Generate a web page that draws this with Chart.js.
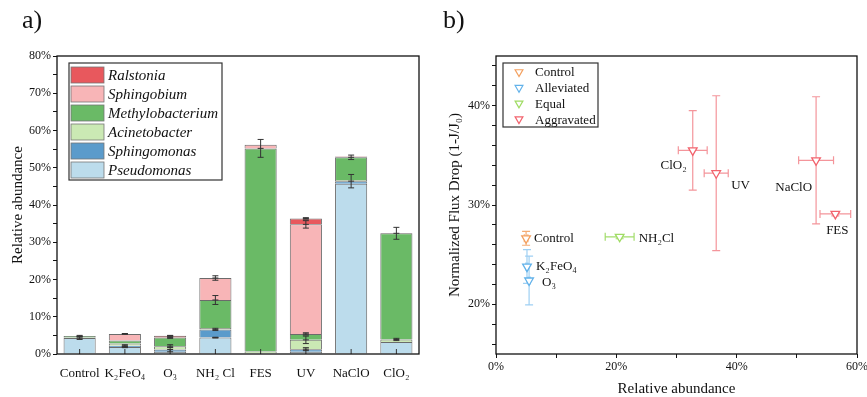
<!DOCTYPE html>
<html lang="en">
<head>
<meta charset="UTF-8">
<title>Relative abundance and flux drop</title>
<script src="https://cdn.jsdelivr.net/npm/chart.js"></script>
<style>
  body { margin: 0; background: #fff; }
  #wrap { position: relative; width: 867px; height: 397px; }
  .panel { position: absolute; top: 0; height: 397px; }
  #pa { left: 0; width: 430px; }
  #pb { left: 430px; width: 437px; }
  .tag { position: absolute; top: 5px; font: 26px "Liberation Serif", serif; color: #111; }
</style>
</head>
<body>
<div id="wrap">
  <div class="panel" id="pa"><canvas id="chartA"></canvas></div>
  <div class="panel" id="pb"><canvas id="chartB"></canvas></div>
  <div class="tag" style="left:22px">a)</div>
  <div class="tag" style="left:443px">b)</div>
</div>

<script>
// ---- panel a: stacked relative abundance (%) ----
const treatments = ['Control', 'K₂FeO₄', 'O₃', 'NH₂ Cl', 'FES', 'UV', 'NaClO', 'ClO₂'];
const pseudomonas      = [4.3, 1.9, 0.6, 4.4, 0.2, 0.6, 45.7, 3.2];
const sphingomonas     = [0.0, 0.3, 0.6, 2.2, 0.0, 0.7, 0.7, 0.0];
const acinetobacter    = [0.1, 0.6, 0.9, 0.4, 0.5, 2.5, 0.3, 0.7];
const methylobacterium = [0.4, 0.8, 2.3, 7.5, 54.5, 1.6, 6.1, 28.5];
const sphingobium      = [0.0, 1.8, 0.0, 5.9, 1.0, 29.4, 0.1, 0.0];
const ralstonia        = [0.0, 0.0, 0.5, 0.0, 0.0, 1.6, 0.1, 0.1];

// error at the top of each layer (0 = none)
const pseudomonasErr      = [0.4, 0.2, 0.0, 0.1, 0.0, 0.0, 0.0, 0.0];
const sphingomonasErr     = [0.0, 0.3, 0.6, 0.3, 0.0, 0.4, 1.8, 0.0];
const acinetobacterErr    = [0.0, 0.0, 0.4, 0.0, 0.0, 1.0, 0.0, 0.3];
const methylobacteriumErr = [0.2, 0.0, 0.2, 1.2, 2.4, 0.3, 0.6, 1.6];
const sphingobiumErr      = [0.0, 0.1, 0.0, 0.6, 0.0, 1.0, 0.0, 0.0];
const ralstoniaErr        = [0.0, 0.0, 0.1, 0.0, 0.0, 0.2, 0.0, 0.0];

const yTicksA = [0, 80, 5];

// ---- panel b: flux drop vs abundance ----
const fluxGroups = ['Control', 'Alleviated', 'Equal', 'Aggravated'];
const pointNames = ['Control', 'K₂FeO₄', 'O₃', 'NH₂Cl', 'ClO₂', 'UV', 'NaClO', 'FES'];
const pointGroup = [0, 1, 1, 2, 3, 3, 3, 3];
const abundX     = [5.0, 5.15, 5.5, 20.55, 32.7, 36.6, 53.2, 56.4];
const abundXErr  = [0.3, 0.2, 0.2, 2.4, 2.4, 2.0, 2.9, 2.55];
const fluxY      = [26.65, 23.8, 22.4, 26.8, 35.5, 33.2, 34.5, 29.1];
const fluxYErr   = [0.7, 1.7, 2.45, 0.2, 4.0, 7.8, 6.4, 0.2];

// styling
const serif = '"Liberation Serif", "Times New Roman", serif';
const groupColors = ['#f3a05f', '#62b2ea', '#9fdc63', '#f2636d'];
const groupErrColors = ['#f4ac75', '#9fd0f3', '#a3dd6c', '#f4959b'];
// label offsets (px) from the marker and text alignment
const labelOffsets = [[8, 0, 'left'], [9, 0, 'left'], [13, 2, 'left'], [19, 2, 'left'],
                      [-6, 15, 'right'], [15, 12, 'left'], [-4, 27, 'right'], [2, 17, 'center']];

const boxPlugin = {
  id: 'box',
  afterDraw(chart) {
    const { ctx, chartArea: a } = chart;
    ctx.save();
    ctx.strokeStyle = '#111';
    ctx.lineWidth = 1.3;
    ctx.strokeRect(a.left, a.top, a.right - a.left, a.bottom - a.top);
    ctx.restore();
  }
};

const stackErrors = {
  id: 'stackErrors',
  afterDatasetsDraw(chart) {
    const { ctx, scales: { x, y }, chartArea } = chart;
    ctx.save();
    ctx.strokeStyle = '#333';
    ctx.lineWidth = 1;
    treatments.forEach((t, j) => {
      const px = x.getPixelForValue(j);
      // inward category tick
      ctx.beginPath();
      ctx.moveTo(px, chartArea.bottom);
      ctx.lineTo(px, chartArea.bottom - 5);
      ctx.stroke();
      let cum = 0;
      chart.data.datasets.forEach(ds => {
        cum += ds.data[j];
        const e = ds.err[j];
        if (!e) return;
        const y1 = y.getPixelForValue(cum + e), y2 = y.getPixelForValue(cum - e);
        ctx.beginPath();
        ctx.moveTo(px, y1); ctx.lineTo(px, y2);
        ctx.moveTo(px - 3, y1); ctx.lineTo(px + 3, y1);
        ctx.moveTo(px - 3, y2); ctx.lineTo(px + 3, y2);
        ctx.moveTo(px - 3, y.getPixelForValue(cum)); ctx.lineTo(px + 3, y.getPixelForValue(cum));
        ctx.stroke();
      });
    });
    ctx.restore();
  }
};

const legendA = {
  id: 'legendA',
  afterDraw(chart) {
    const ctx = chart.ctx;
    const items = chart.data.datasets.slice().reverse();
    const left = 69, top = 63, w = 153, h = 117, pitch = 19;
    ctx.save();
    ctx.fillStyle = '#fff';
    ctx.fillRect(left, top, w, h);
    ctx.strokeStyle = '#333';
    ctx.lineWidth = 1.2;
    ctx.strokeRect(left, top, w, h);
    ctx.font = 'italic 15px ' + serif;
    ctx.textBaseline = 'middle';
    items.forEach((ds, i) => {
      const cy = top + 12 + i * pitch;
      ctx.fillStyle = ds.backgroundColor;
      ctx.fillRect(left + 2, cy - 8, 33, 16);
      ctx.strokeStyle = '#777';
      ctx.lineWidth = 0.8;
      ctx.strokeRect(left + 2, cy - 8, 33, 16);
      ctx.fillStyle = '#111';
      ctx.fillText(ds.label, left + 39, cy + 1);
    });
    ctx.restore();
  }
};

function layer(label, data, err, color) {
  return { label, data, err, backgroundColor: color, borderColor: '#6b6b6b', borderWidth: 1,
           barPercentage: 0.71, categoryPercentage: 1 };
}

new Chart(document.getElementById('chartA'), {
  type: 'bar',
  data: {
    labels: treatments,
    datasets: [
      layer('Pseudomonas', pseudomonas, pseudomonasErr, '#bcdcec'),
      layer('Sphingomonas', sphingomonas, sphingomonasErr, '#5b9bcb'),
      layer('Acinetobacter', acinetobacter, acinetobacterErr, '#cbe9b4'),
      layer('Methylobacterium', methylobacterium, methylobacteriumErr, '#6aba66'),
      layer('Sphingobium', sphingobium, sphingobiumErr, '#f8b5b7'),
      layer('Ralstonia', ralstonia, ralstoniaErr, '#e8585d')
    ]
  },
  options: {
    responsive: true,
    maintainAspectRatio: false,
    animation: false,
    layout: { padding: { top: 56, right: 11, left: 0, bottom: 0 } },
    plugins: { legend: { display: false }, tooltip: { enabled: false } },
    scales: {
      x: {
        stacked: true,
        grid: { display: false },
        border: { display: false },
        ticks: { color: '#111', font: { family: serif, size: 13 }, padding: 4, maxRotation: 0, autoSkip: false },
        afterFit(s) { s.height = 43; s.paddingLeft = 0; s.paddingRight = 0; }
      },
      y: {
        stacked: true,
        min: yTicksA[0], max: yTicksA[1],
        grid: { drawOnChartArea: false, drawTicks: true, tickLength: 4, color: '#111' },
        border: { display: false },
        ticks: {
          stepSize: yTicksA[2], color: '#111', padding: 2,
          font: { family: serif, size: 12 },
          callback: v => v % 10 === 0 ? v + '%' : ''
        },
        title: { display: true, text: 'Relative abundance', color: '#111',
                 font: { family: serif, size: 15 }, padding: { top: 9, bottom: 0 } },
        afterFit(s) { s.width = 57; s.paddingTop = 0; s.paddingBottom = 0; }
      }
    }
  },
  plugins: [stackErrors, boxPlugin, legendA]
});

// ---- chart b ----
const xyErrors = {
  id: 'xyErrors',
  beforeDatasetsDraw(chart) {
    const { ctx, scales: { x, y } } = chart;
    ctx.save();
    ctx.lineWidth = 1.2;
    pointNames.forEach((n, i) => {
      const px = x.getPixelForValue(abundX[i]), py = y.getPixelForValue(fluxY[i]);
      ctx.strokeStyle = groupErrColors[pointGroup[i]];
      ctx.beginPath();
      const y1 = y.getPixelForValue(fluxY[i] + fluxYErr[i]), y2 = y.getPixelForValue(fluxY[i] - fluxYErr[i]);
      ctx.moveTo(px, y1); ctx.lineTo(px, y2);
      ctx.moveTo(px - 4, y1); ctx.lineTo(px + 4, y1);
      ctx.moveTo(px - 4, y2); ctx.lineTo(px + 4, y2);
      const x1 = x.getPixelForValue(abundX[i] - abundXErr[i]), x2 = x.getPixelForValue(abundX[i] + abundXErr[i]);
      ctx.moveTo(x1, py); ctx.lineTo(x2, py);
      ctx.moveTo(x1, py - 4); ctx.lineTo(x1, py + 4);
      ctx.moveTo(x2, py - 4); ctx.lineTo(x2, py + 4);
      ctx.stroke();
    });
    ctx.restore();
  },
  afterDatasetsDraw(chart) {
    const { ctx, scales: { x, y } } = chart;
    ctx.save();
    ctx.fillStyle = '#111';
    ctx.font = '13px ' + serif;
    ctx.textBaseline = 'middle';
    pointNames.forEach((n, i) => {
      const px = x.getPixelForValue(abundX[i]), py = y.getPixelForValue(fluxY[i]);
      const [dx, dy, align] = labelOffsets[i];
      ctx.textAlign = align;
      ctx.fillText(n, px + dx, py + dy);
    });
    ctx.restore();
  }
};

const legendB = {
  id: 'legendB',
  afterDraw(chart) {
    const ctx = chart.ctx;
    const left = 73, top = 63, w = 95, h = 64, pitch = 15.7;
    ctx.save();
    ctx.fillStyle = '#fff';
    ctx.fillRect(left, top, w, h);
    ctx.strokeStyle = '#333';
    ctx.lineWidth = 1.2;
    ctx.strokeRect(left, top, w, h);
    ctx.font = '13px ' + serif;
    ctx.textBaseline = 'middle';
    fluxGroups.forEach((g, i) => {
      const cy = top + 9 + i * pitch;
      ctx.strokeStyle = groupColors[i];
      ctx.fillStyle = '#fff';
      Chart.helpers.drawPoint(ctx, { pointStyle: 'triangle', rotation: 180, radius: 4.5, borderWidth: 1.2 }, left + 16, cy);
      ctx.fillStyle = '#111';
      ctx.fillText(g, left + 32, cy + 1);
    });
    ctx.restore();
  }
};

const scatterSets = fluxGroups.map((g, gi) => ({
  label: g,
  data: pointNames.map((n, i) => ({ x: abundX[i], y: fluxY[i], g: pointGroup[i] }))
                  .filter(p => p.g === gi),
  pointStyle: 'triangle',
  rotation: 180,
  pointRadius: 5,
  borderWidth: 1.3,
  borderColor: groupColors[gi],
  backgroundColor: '#fff'
}));

new Chart(document.getElementById('chartB'), {
  type: 'scatter',
  data: { datasets: scatterSets },
  options: {
    responsive: true,
    maintainAspectRatio: false,
    animation: false,
    layout: { padding: { top: 56, right: 10, left: 0, bottom: 0 } },
    plugins: { legend: { display: false }, tooltip: { enabled: false } },
    scales: {
      x: {
        min: 0, max: 60,
        grid: { drawOnChartArea: false, drawTicks: true, tickLength: 4, color: '#111' },
        border: { display: false },
        afterBuildTicks(s) { s.ticks = [0, 10, 20, 30, 40, 50, 60].map(v => ({ value: v })); },
        ticks: { color: '#111', padding: 2, font: { family: serif, size: 12 },
                 callback: v => v % 20 === 0 ? v + '%' : '' },
        title: { display: true, text: 'Relative abundance', color: '#111',
                 font: { family: serif, size: 15, lineHeight: 1 }, padding: { top: 0, bottom: 0 } },
        afterFit(s) { s.height = 43; s.paddingLeft = 0; s.paddingRight = 0; }
      },
      y: {
        min: 15, max: 45,
        grid: { drawOnChartArea: false, drawTicks: true, tickLength: 4, color: '#111' },
        border: { display: false },
        afterBuildTicks(s) {
          const t = [];
          for (let v = 16; v <= 44; v += 2) t.push({ value: v });
          s.ticks = t;
        },
        ticks: { color: '#111', padding: 2, font: { family: serif, size: 12 },
                 callback: v => v % 10 === 0 ? v + '%' : '' },
        title: { display: true, text: 'Normalized Flux Drop (1-J/J₀)', color: '#111',
                 font: { family: serif, size: 15 }, padding: { top: 16, bottom: 0 } },
        afterFit(s) { s.width = 66; s.paddingTop = 0; s.paddingBottom = 0; }
      }
    }
  },
  plugins: [xyErrors, boxPlugin, legendB]
});
</script>
</body>
</html>
